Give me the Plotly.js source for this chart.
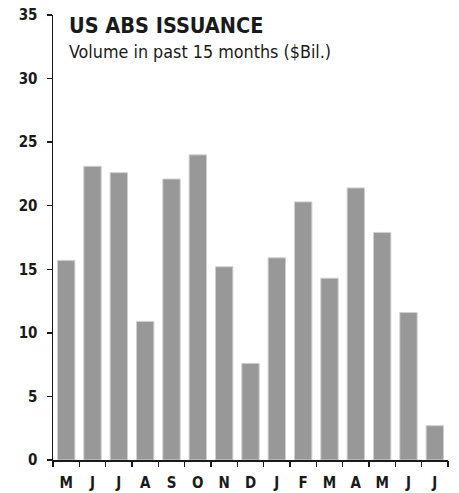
<!DOCTYPE html>
<html>
<head>
<meta charset="utf-8">
<script src="https://cdn.plot.ly/plotly-3.0.1.min.js"></script>
<style>html,body{margin:0;padding:0;background:#fff;}#chart{width:459px;height:493px;}</style>
</head>
<body>
<div id="chart"></div>
<script>
const months = ["M","J","J","A","S","O","N","D","J","F","M","A","M","J","J"];
const volume = [15.7, 23.1, 22.6, 10.9, 22.1, 24.0, 15.2, 7.6, 15.9, 20.3, 14.3, 21.4, 17.9, 11.6, 2.7];
const yTicks = [0, 5, 10, 15, 20, 25, 30, 35];
const titleText = "US ABS ISSUANCE";
const subtitleText = "Volume in past 15 months ($Bil.)";

const xIdx = months.map((m, i) => i);
const fontFam = "'Liberation Sans Narrow', 'DejaVu Sans Condensed', 'Roboto', sans-serif";

const trace = {
  type: 'bar',
  x: xIdx,
  y: volume,
  marker: {color: '#989898', line: {color: '#d0d0d0', width: 1}},
  hoverinfo: 'skip'
};

const layout = {
  width: 459, height: 493,
  margin: {l: 53, r: 11, t: 15, b: 33, pad: 0},
  paper_bgcolor: '#fff', plot_bgcolor: '#fff',
  showlegend: false,
  bargap: 0.34,
  font: {family: fontFam, color: '#1a1a1a'},
  xaxis: {
    type: 'linear',
    range: [-0.5, 14.5],
    tickmode: 'array',
    tickvals: xIdx,
    ticktext: months,
    showgrid: false, zeroline: false,
    showline: true, linecolor: '#1a1a1a', linewidth: 1.5,
    ticks: '', 
    tickfont: {size: 15, family: fontFam, color: '#1a1a1a', weight: 'bold'},
    ticklabelstandoff: 8
  },
  xaxis2: {
    overlaying: 'x', matches: 'x', range: [-0.5, 14.5],
    tickmode: 'array',
    tickvals: [-0.5,0.5,1.5,2.5,3.5,4.5,5.5,6.5,7.5,8.5,9.5,10.5,11.5,12.5,13.5,14.5],
    showticklabels: false, ticks: 'outside', ticklen: 6, tickwidth: 1.5, tickcolor: '#1a1a1a',
    showgrid: false, zeroline: false, showline: false, anchor: 'y'
  },
  yaxis: {
    range: [0, 35],
    tickmode: 'array', tickvals: yTicks,
    showgrid: false, zeroline: false,
    showline: true, linecolor: '#1a1a1a', linewidth: 1.5,
    ticks: 'outside', ticklen: 5, tickwidth: 1.5, tickcolor: '#1a1a1a',
    tickfont: {size: 15, family: fontFam, color: '#1a1a1a', weight: 'bold'},
    ticklabelstandoff: 6
  },
  annotations: [
    {text: '<b>' + titleText + '</b>', xref: 'paper', yref: 'paper', x: 0.035, y: 1.01,
     xanchor: 'left', yanchor: 'top', showarrow: false,
     font: {size: 21.5, family: fontFam, color: '#1a1a1a'}},
    {text: subtitleText, xref: 'paper', yref: 'paper', x: 0.035, y: 0.947,
     xanchor: 'left', yanchor: 'top', showarrow: false,
     font: {size: 17.8, family: fontFam, color: '#1a1a1a'}}
  ]
};

const tickTrace = {type: 'scatter', x: [0], y: [0], xaxis: 'x2', yaxis: 'y', mode: 'markers',
  marker: {opacity: 0}, hoverinfo: 'skip'};

Plotly.newPlot('chart', [trace, tickTrace], layout, {displayModeBar: false, staticPlot: true});
</script>
</body>
</html>
